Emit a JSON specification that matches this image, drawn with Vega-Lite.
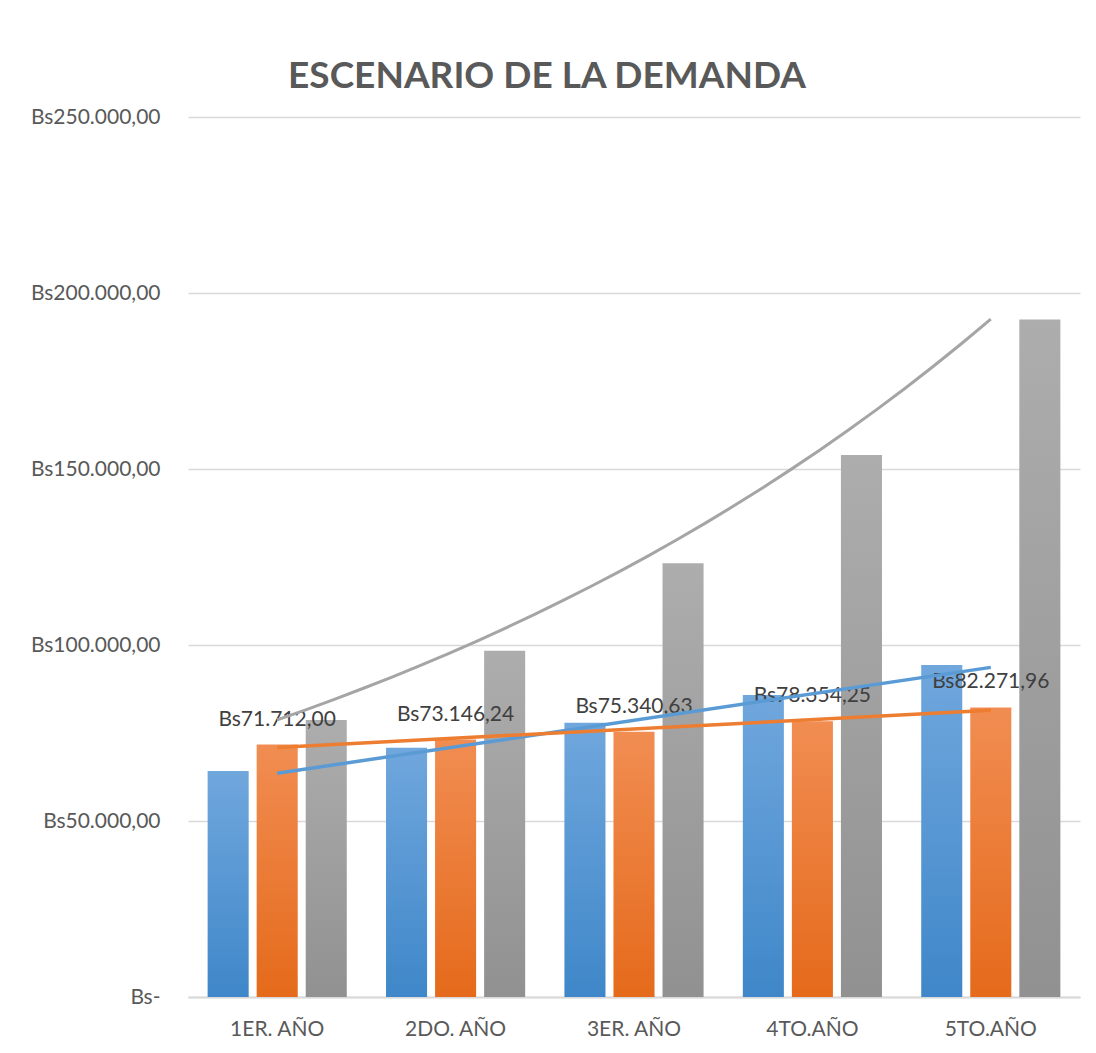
{
  "$schema": "https://vega.github.io/schema/vega-lite/v6.json",
  "width": 892,
  "height": 880,
  "autosize": {"type": "none"},
  "padding": {"left": 188, "top": 117, "right": 16, "bottom": 56},
  "background": "white",
  "title": {
    "text": "ESCENARIO DE LA DEMANDA",
    "fontSize": 37,
    "font": "Lato",
    "fontWeight": "bold",
    "color": "#595959",
    "anchor": "middle",
    "dx": -87,
    "offset": 10
  },
  "config": {
    "locale": {"number": {"decimal": ",", "thousands": ".", "grouping": [3], "currency": ["Bs", ""]}},
    "view": {"stroke": null},
    "font": "Lato"
  },
  "data": {
    "values": [
      {"anio": "1ER. AÑO", "idx": 1, "serie": "A", "valor": 64200},
      {"anio": "2DO. AÑO", "idx": 2, "serie": "A", "valor": 70800},
      {"anio": "3ER. AÑO", "idx": 3, "serie": "A", "valor": 77900},
      {"anio": "4TO.AÑO", "idx": 4, "serie": "A", "valor": 85800},
      {"anio": "5TO.AÑO", "idx": 5, "serie": "A", "valor": 94300},
      {"anio": "1ER. AÑO", "idx": 1, "serie": "B", "valor": 71712.00},
      {"anio": "2DO. AÑO", "idx": 2, "serie": "B", "valor": 73146.24},
      {"anio": "3ER. AÑO", "idx": 3, "serie": "B", "valor": 75340.63},
      {"anio": "4TO.AÑO", "idx": 4, "serie": "B", "valor": 78354.25},
      {"anio": "5TO.AÑO", "idx": 5, "serie": "B", "valor": 82271.96},
      {"anio": "1ER. AÑO", "idx": 1, "serie": "C", "valor": 78700},
      {"anio": "2DO. AÑO", "idx": 2, "serie": "C", "valor": 98400},
      {"anio": "3ER. AÑO", "idx": 3, "serie": "C", "valor": 123200},
      {"anio": "4TO.AÑO", "idx": 4, "serie": "C", "valor": 154000},
      {"anio": "5TO.AÑO", "idx": 5, "serie": "C", "valor": 192500}
    ]
  },
  "encoding": {
    "y": {
      "field": "valor",
      "type": "quantitative",
      "scale": {"domain": [0, 250000], "nice": false, "zero": true},
      "axis": {
        "title": null,
        "values": [0, 50000, 100000, 150000, 200000, 250000],
        "format": "$,.2f",
        "labelExpr": "datum.value == 0 ? 'Bs-' : datum.label",
        "labelFontSize": 21,
        "labelFont": "Lato",
        "labelColor": "#595959",
        "labelPadding": 28,
        "ticks": false,
        "domain": false,
        "grid": true,
        "gridColor": "#d9d9d9",
        "gridWidth": 1.5
      }
    }
  },
  "layer": [
    {
      "encoding": {
        "x": {"field": "anio", "type": "nominal", "sort": null,
          "scale": {"paddingInner": 0.22, "paddingOuter": 0.11},
          "axis": {"title": null, "labelAngle": 0, "labelFontSize": 21, "labelFont": "Lato", "labelColor": "#595959",
            "labelPadding": 21, "ticks": false, "domain": true, "domainColor": "#d9d9d9", "domainWidth": 2, "grid": false}},
        "xOffset": {"field": "serie", "type": "nominal", "scale": {"domain": ["A", "B", "C"], "paddingInner": 0.163, "paddingOuter": 0}}
      },
      "layer": [
        {
          "transform": [{"filter": "datum.serie == 'A'"}],
          "mark": {
            "type": "bar",
            "color": {"gradient": "linear", "x1": 0, "y1": 0, "x2": 0, "y2": 1,
              "stops": [{"offset": 0, "color": "#70a7dd"}, {"offset": 1, "color": "#3f87c9"}]}
          }
        },
        {
          "transform": [{"filter": "datum.serie == 'B'"}],
          "mark": {
            "type": "bar",
            "color": {"gradient": "linear", "x1": 0, "y1": 0, "x2": 0, "y2": 1,
              "stops": [{"offset": 0, "color": "#f18d52"}, {"offset": 1, "color": "#e56a1b"}]}
          }
        },
        {
          "transform": [{"filter": "datum.serie == 'C'"}],
          "mark": {
            "type": "bar",
            "color": {"gradient": "linear", "x1": 0, "y1": 0, "x2": 0, "y2": 1,
              "stops": [{"offset": 0, "color": "#adadad"}, {"offset": 1, "color": "#919191"}]}
          }
        },
        {
          "transform": [{"filter": "datum.serie == 'B'"}],
          "mark": {"type": "text", "fontSize": 21, "font": "Lato", "color": "#404040", "baseline": "middle", "dy": -25},
          "encoding": {
            "text": {"field": "valor", "type": "quantitative", "format": "$,.2f"}
          }
        }
      ]
    },
    {
      "encoding": {
        "x": {"field": "idx", "type": "quantitative", "scale": {"domain": [0.5, 5.5], "nice": false, "zero": false}, "axis": null}
      },
      "layer": [
        {
          "transform": [
            {"filter": "datum.serie == 'A'"},
            {"regression": "valor", "on": "idx", "method": "linear", "extent": [1, 5]}
          ],
          "mark": {"type": "line", "color": "#5b9bd5", "strokeWidth": 3.5}
        },
        {
          "transform": [
            {"filter": "datum.serie == 'B'"},
            {"regression": "valor", "on": "idx", "method": "linear", "extent": [1, 5]}
          ],
          "mark": {"type": "line", "color": "#ed7d31", "strokeWidth": 3.5}
        },
        {
          "transform": [
            {"filter": "datum.serie == 'C'"},
            {"regression": "valor", "on": "idx", "method": "exp", "extent": [1, 5]}
          ],
          "mark": {"type": "line", "color": "#a5a5a5", "strokeWidth": 3}
        }
      ]
    }
  ],
  "resolve": {"scale": {"x": "independent"}}
}
